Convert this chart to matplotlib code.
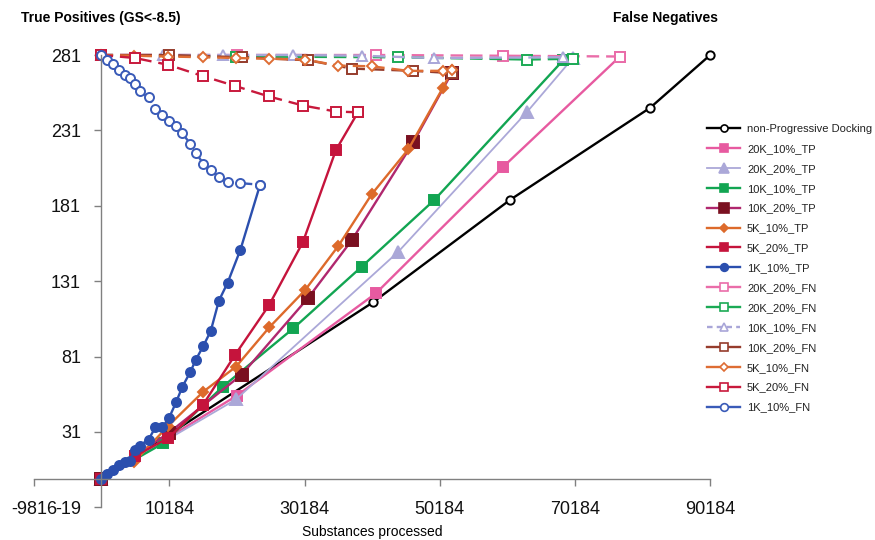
import matplotlib
matplotlib.use('Agg')
import matplotlib.pyplot as plt
from matplotlib.lines import Line2D

plt.rcParams['font.family'] = ['Liberation Sans', 'DejaVu Sans']
plt.rcParams['lines.scale_dashes'] = False

# substances processed / hits found, one pair of arrays per run
np_x = [0, 40300, 60600, 81300, 90184]
np_tp = [0, 117, 185, 246, 281]

k20_10_x = [0, 20130, 40740, 59480, 76830]
k20_10_tp = [0, 55, 123, 206.5, 280]
k20_10_fn = [281, 281, 281, 280.5, 280]

k20_20_x = [0, 20030, 44040, 63120, 69840]
k20_20_tp = [0, 52.6, 150.5, 243.4, 278.8]
k20_20_fn = [281, 280, 279.5, 278, 278.5]

k10_10_x = [0, 9275, 18060, 28510, 38620, 49360, 68450]
k10_10_tp = [0, 23.5, 61, 99.7, 140.6, 184.8, 277.6]
k10_10_fn = [281, 281, 281, 281, 280.5, 279, 279.5]

k10_20_x = [0, 10120, 20870, 30720, 37140, 46260, 51940]
k10_20_tp = [0, 30.5, 69, 120, 158, 223, 269]
k10_20_fn = [281, 281, 279.5, 277.5, 272, 270.5, 269]

k5_10_x = [0, 5000, 10000, 15190, 20030, 24960, 30240, 35160, 40100, 45520, 50610, 51980]
k5_10_tp = [0, 11.3, 35, 57.7, 74.3, 100.4, 125, 154.3, 188.6, 218.4, 259, 271]
k5_10_fn = [281, 280.5, 280, 279.5, 279, 278.5, 278, 274, 273.5, 270.5, 270.5, 271]

k5_20_x = [0, 5090, 10010, 15150, 19880, 24910, 29940, 34820, 38080]
k5_20_tp = [0, 15, 27, 49, 82, 115, 157, 218, 243]
k5_20_fn = [281, 279, 274.5, 267, 260.5, 253.5, 247.5, 243.5, 243]

k1_10_x = [0, 1000, 1800, 2800, 3600, 4300, 5100, 5800, 7100, 8100, 9100,
           10100, 11200, 12100, 13300, 14100, 15200, 16300, 17500, 18800,
           20700, 23600]
k1_10_tp = [0, 3, 6, 9, 11, 12, 19, 22, 26, 34, 34, 40, 51, 61, 71, 79, 88,
            98, 118, 130, 152, 195]
k1_10_fn = [281, 278, 275, 271, 268, 266, 262, 257, 253, 245, 241, 237, 234,
            229, 222, 216, 209, 205, 200, 197, 196, 195]

x_ticks = [-9816, 10184, 30184, 50184, 70184, 90184]
y_ticks = [-19, 31, 81, 131, 181, 231, 281]

W = 'white'
DASH = (0, (9, 5))
series = [
    # label, x, y, line colour, marker, size, face, edge, linestyle, width
    ('non-Progressive Docking', np_x, np_tp, '#000000', 'o', 6, W, '#000000', '-', 1.7),
    ('20K_10%_TP', k20_10_x, k20_10_tp, '#E75AA0', 's', 7, '#E75AA0', '#E75AA0', '-', 1.7),
    ('20K_20%_TP', k20_20_x, k20_20_tp, '#ABA8D8', '^', 8, '#ABA8D8', '#ABA8D8', '-', 1.3),
    ('10K_10%_TP', k10_10_x, k10_10_tp, '#12A552', 's', 6.5, '#12A552', '#12A552', '-', 1.7),
    ('10K_20%_TP', k10_20_x, k10_20_tp, '#B0276E', 's', 9, '#7A1020', '#7A1020', '-', 1.7),
    ('5K_10%_TP', k5_10_x, k5_10_tp, '#DD6A2B', 'D', 5, '#DD6A2B', '#DD6A2B', '-', 1.7),
    ('5K_20%_TP', k5_20_x, k5_20_tp, '#C5143C', 's', 7, '#C5143C', '#C5143C', '-', 1.7),
    ('1K_10%_TP', k1_10_x, k1_10_tp, '#2B4FAE', 'o', 6.5, '#2B4FAE', '#2B4FAE', '-', 1.7),
    ('20K_20%_FN', k20_10_x, k20_10_fn, '#EA6DA9', 's', 6.5, W, '#EA6DA9', DASH, 1.7),
    ('20K_20%_FN', k20_20_x, k20_20_fn, '#1BAA55', 's', 6.5, W, '#1BAA55', DASH, 1.7),
    ('10K_10%_FN', k10_10_x, k10_10_fn, '#A9A6D8', '^', 7, W, '#A9A6D8', DASH, 1.7),
    ('10K_20%_FN', k10_20_x, k10_20_fn, '#963C2C', 's', 6.5, W, '#963C2C', DASH, 1.7),
    ('5K_10%_FN', k5_10_x, k5_10_fn, '#DE6D34', 'D', 5, W, '#DE6D34', DASH, 1.7),
    ('5K_20%_FN', k5_20_x, k5_20_fn, '#C8193C', 's', 6.5, W, '#C8193C', DASH, 1.7),
    ('1K_10%_FN', k1_10_x, k1_10_fn, '#3A5BB8', 'o', 6.5, W, '#3A5BB8', DASH, 1.7),
]

fig = plt.figure(figsize=(8.75, 5.4), dpi=100)
ax = fig.add_axes([34.2 / 875, 1 - 507.4 / 540, 676 / 875, 452.4 / 540])

handles = []
for label, xs, ys, col, mk, ms, fc, ec, ls, lw in series:
    ax.plot(xs, ys, color=col, linestyle=ls, linewidth=lw, marker=mk,
            markersize=ms, markerfacecolor=fc, markeredgecolor=ec,
            markeredgewidth=1.4, clip_on=False)
    leg_ls = '--' if label == '10K_10%_FN' else '-'
    handles.append(Line2D([], [], color=col, linestyle=leg_ls, linewidth=lw,
                          marker=mk, markersize=ms * 0.85, markerfacecolor=fc,
                          markeredgecolor=ec, markeredgewidth=1.2,
                          dashes=(4, 3) if leg_ls == '--' else (None, None),
                          label=label))

ax.set_xlim(-9816.19, 90184)
ax.set_ylim(-19, 281)
for side in ['top', 'right']:
    ax.spines[side].set_visible(False)
ax.spines['left'].set_position(('data', 0))
ax.spines['bottom'].set_position(('data', 0))
for side in ['left', 'bottom']:
    ax.spines[side].set_color('#808080')
    ax.spines[side].set_linewidth(1.0)

ax.set_xticks(x_ticks)
ax.set_xticklabels([str(t) for t in x_ticks])
ax.set_yticks(y_ticks)
ax.set_yticklabels([str(t) for t in y_ticks])
ax.tick_params(axis='both', direction='out', length=5, width=1,
               color='#808080', labelsize=13, labelcolor='#111111')
ax.tick_params(axis='x', pad=11)
ax.tick_params(axis='y', pad=9)

fig.text(21 / 875, 1 - 18 / 540, 'True Positives (GS<-8.5)', fontsize=10,
         fontweight='bold', va='center', ha='left')
fig.text(613 / 875, 1 - 18 / 540, 'False Negatives', fontsize=10,
         fontweight='bold', va='center', ha='left')
fig.text(372 / 875, 1 - 532 / 540, 'Substances processed', fontsize=10,
         va='center', ha='center')

fig.legend(handles=handles, loc='upper left',
           bbox_to_anchor=(707 / 875, 1 - 124 / 540), frameon=False,
           fontsize=8, handlelength=3.0, handletextpad=0.6,
           labelspacing=0.89, borderpad=0, borderaxespad=0,
           labelcolor='#222222')

fig.savefig('out.png', dpi=100)
